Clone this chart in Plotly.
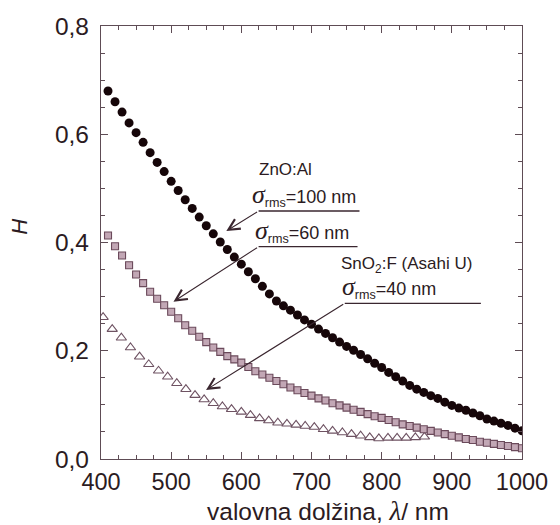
import plotly.graph_objects as go

# ---- data ----
wl_zno100 = list(range(410, 1001, 10))
H_zno100 = [0.680, 0.660, 0.641, 0.621, 0.603, 0.585, 0.566, 0.548, 0.531, 0.513,
            0.496, 0.479, 0.463, 0.447, 0.431, 0.416, 0.401, 0.387, 0.373, 0.360,
            0.346, 0.333, 0.319, 0.305, 0.292, 0.283, 0.275, 0.266, 0.257, 0.249,
            0.240, 0.232, 0.224, 0.216, 0.208, 0.201, 0.193, 0.185, 0.177, 0.169,
            0.160, 0.152, 0.144, 0.136, 0.129, 0.123, 0.117, 0.112, 0.105, 0.099,
            0.094, 0.090, 0.085, 0.080, 0.074, 0.070, 0.066, 0.062, 0.057, 0.052]

wl_zno60 = list(range(410, 1001, 10))
H_zno60 = [0.413, 0.393, 0.376, 0.358, 0.341, 0.325, 0.309, 0.296, 0.284, 0.272,
           0.260, 0.247, 0.237, 0.226, 0.216, 0.206, 0.198, 0.190, 0.184, 0.178,
           0.170, 0.162, 0.156, 0.150, 0.144, 0.138, 0.132, 0.127, 0.122, 0.117,
           0.112, 0.108, 0.103, 0.099, 0.095, 0.091, 0.087, 0.083, 0.079, 0.076,
           0.072, 0.068, 0.064, 0.061, 0.058, 0.055, 0.052, 0.049, 0.046, 0.043,
           0.040, 0.037, 0.035, 0.032, 0.030, 0.028, 0.026, 0.024, 0.022, 0.020]

wl_sno40 = [403, 416, 429, 442, 455, 468, 482, 495, 508, 521, 534, 547, 560, 573,
            586, 600, 613, 626, 639, 652, 665, 678, 691, 704, 717, 730, 744, 757,
            770, 783, 796, 809, 822, 835, 848, 861]
H_sno40 = [0.262, 0.240, 0.224, 0.206, 0.189, 0.175, 0.163, 0.152, 0.140, 0.129,
           0.118, 0.110, 0.103, 0.097, 0.092, 0.087, 0.081, 0.075, 0.071, 0.067,
           0.065, 0.063, 0.061, 0.059, 0.055, 0.052, 0.049, 0.046, 0.043, 0.040,
           0.038, 0.039, 0.039, 0.039, 0.040, 0.041]

x_ticks = [400, 500, 600, 700, 800, 900, 1000]
y_ticks = [0.0, 0.2, 0.4, 0.6, 0.8]

TXT = '#2b1b22'
AX = '#5e4c55'
LN = '#3a262f'
FONT = 'Liberation Sans, Arial, sans-serif'

fig = go.Figure()
fig.add_trace(go.Scatter(x=wl_sno40, y=H_sno40, mode='markers',
                         marker=dict(symbol='triangle-up', size=9, color='white',
                                     line=dict(color='#6e5262', width=1.1)),
                         showlegend=False))
fig.add_trace(go.Scatter(x=wl_zno60, y=H_zno60, mode='markers',
                         marker=dict(symbol='square', size=7, color='#c2a7b5',
                                     line=dict(color='#6b4a5b', width=1.1)),
                         showlegend=False))
fig.add_trace(go.Scatter(x=wl_zno100, y=H_zno100, mode='markers',
                         marker=dict(symbol='circle', size=9, color='#160609',
                                     line=dict(width=0)),
                         showlegend=False))

axis_common = dict(showline=True, linecolor=AX, linewidth=1.2, mirror='ticks',
                   ticks='inside', ticklen=7, tickwidth=1, tickcolor=AX,
                   showgrid=False, zeroline=False)

fig.update_xaxes(range=[400, 1000], tickvals=x_ticks, ticklabelstandoff=2,
                 tickfont=dict(family=FONT, size=23.5, color=TXT),
                 minor=dict(dtick=25, ticks='inside', ticklen=4, tickcolor=AX),
                 **axis_common)
fig.update_yaxes(range=[0, 0.8], tickvals=y_ticks, tickformat='.1f',
                 ticklabelstandoff=6,
                 tickfont=dict(family=FONT, size=24.5, color=TXT),
                 minor=dict(dtick=0.05, ticks='inside', ticklen=4, tickcolor=AX),
                 **axis_common)

# x-axis title
fig.add_annotation(text='valovna dolžina, <i><span style="font-family:Liberation Serif;font-size:27px">λ</span></i>/ nm',
                   x=0.5395, y=-0.119, xref='paper', yref='paper',
                   xanchor='center', yanchor='middle', showarrow=False,
                   font=dict(family=FONT, size=24.5, color=TXT))

sig = '<span style="font-family:Liberation Serif;font-size:26px"><i>σ</i></span>'


def label(txt, x, y, size=18):
    fig.add_annotation(text=txt, x=x, y=y, xref='x', yref='y', showarrow=False,
                       xanchor='left', yanchor='middle',
                       font=dict(family=FONT, size=size, color=TXT))


label('ZnO:Al', 622, 0.535, 17)
label(sig + '<sub>rms</sub>=100 nm', 613, 0.488)
label(sig + '<sub>rms</sub>=60 nm', 616, 0.421)
label('SnO<sub>2</sub>:F (Asahi U)', 739, 0.358, 17)
label(sig + '<sub>rms</sub>=40 nm', 741, 0.318)

# underline + arrow: (horizontal start x, end x, y) and arrow tip
arrows = [
    (624.6, 768.4, 0.4582, 578.6, 0.4212),
    (624.6, 765.6, 0.3922, 503.3, 0.2906),
    (747.4, 941.4, 0.2877, 549.7, 0.1275),
]
for x0, x1, yh, xt, yt in arrows:
    fig.add_shape(type='line', x0=x0, x1=x1, y0=yh, y1=yh, xref='x', yref='y',
                  line=dict(color=LN, width=1.3))
    fig.add_annotation(x=xt, y=yt, ax=x0, ay=yh, xref='x', yref='y',
                       axref='x', ayref='y', text='', showarrow=True,
                       arrowhead=5, arrowsize=2.0, arrowwidth=1.1,
                       arrowcolor=LN, standoff=0, startstandoff=0)

fig.add_annotation(text='<i>H</i>', x=-0.193, y=0.536, xref='paper', yref='paper',
                   xanchor='center', yanchor='middle',
                   showarrow=False, textangle=-90,
                   font=dict(family=FONT, size=22, color=TXT))

fig.update_layout(width=560, height=525, margin=dict(l=101, r=29, t=26, b=66),
                  plot_bgcolor='white', paper_bgcolor='white', separators=', ',
                  showlegend=False)

fig.write_html('out.html')
